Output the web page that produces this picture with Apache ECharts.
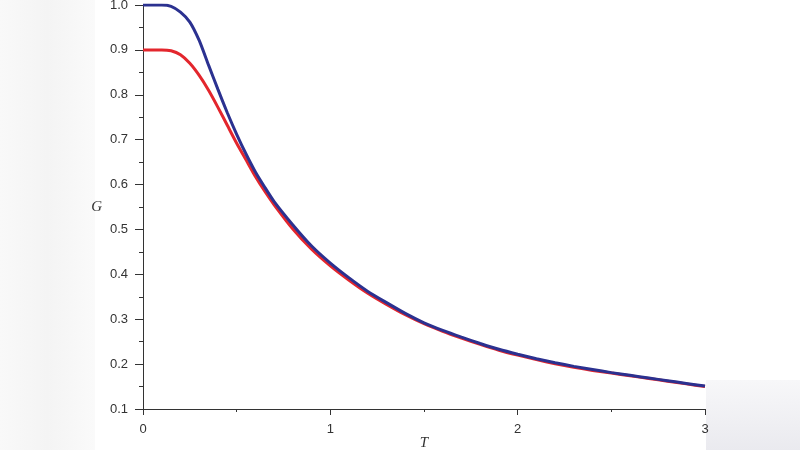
<!DOCTYPE html>
<html>
<head>
<meta charset="utf-8">
<script src="https://cdn.jsdelivr.net/npm/echarts@6/dist/echarts.min.js"></script>
<style>
  html, body { margin: 0; padding: 0; background: #fff; }
  #chart { width: 800px; height: 450px; }
</style>
</head>
<body>
<div id="chart"></div>
<script>
// T values (x axis)
var tValues = [0, 0.05, 0.1, 0.15, 0.2, 0.25, 0.3, 0.35, 0.4, 0.45, 0.5, 0.55, 0.6, 0.65, 0.7,
    0.8, 0.9, 1.0, 1.1, 1.2, 1.3, 1.4, 1.5, 1.6, 1.7, 1.8, 1.9, 2.0,
    2.1, 2.2, 2.3, 2.4, 2.5, 2.6, 2.7, 2.8, 2.9, 3.0];
// upper curve (blue)
var gBlue = [1.0, 1.0, 1.0, 0.997, 0.984, 0.962, 0.921, 0.866, 0.812, 0.760, 0.712, 0.668, 0.628, 0.594, 0.562,
    0.510, 0.463, 0.425, 0.392, 0.362, 0.337, 0.313, 0.292, 0.275, 0.260, 0.246, 0.233, 0.222,
    0.212, 0.203, 0.195, 0.188, 0.181, 0.175, 0.169, 0.163, 0.157, 0.151];
// lower curve (red)
var gRed = [0.9, 0.9, 0.9, 0.898, 0.889, 0.870, 0.843, 0.810, 0.772, 0.732, 0.692, 0.655, 0.618, 0.585, 0.555,
    0.501, 0.456, 0.419, 0.387, 0.358, 0.333, 0.310, 0.290, 0.273, 0.258, 0.244, 0.231, 0.220,
    0.210, 0.201, 0.193, 0.186, 0.180, 0.174, 0.168, 0.162, 0.156, 0.150];

var pairs = function (ys) {
    return tValues.map(function (t, i) { return [t, ys[i]]; });
};

var myChart = echarts.init(document.getElementById('chart'));
var axisColor = '#333';
var option = {
    backgroundColor: '#fff',
    animation: false,
    graphic: [
        {
            type: 'rect', z: -10,
            shape: { x: 0, y: 0, width: 95, height: 450 },
            style: {
                fill: new echarts.graphic.LinearGradient(0, 0, 1, 0, [
                    { offset: 0, color: '#f9f9f9' },
                    { offset: 0.5, color: '#f4f4f4' },
                    { offset: 1, color: '#fafafa' }
                ])
            }
        },
        {
            type: 'rect', z: -10,
            shape: { x: 706, y: 380, width: 94, height: 70 },
            style: {
                fill: new echarts.graphic.LinearGradient(0, 0, 0, 1, [
                    { offset: 0, color: '#f7f7f9' },
                    { offset: 1, color: '#eaeaef' }
                ])
            }
        }
    ],
    grid: { left: 143, right: 95, top: 5, bottom: 41, outerBoundsMode: 'none', containLabel: false },
    xAxis: {
        type: 'value',
        min: 0,
        max: 3,
        interval: 1,
        name: 'T',
        nameLocation: 'middle',
        nameGap: 27,
        nameMoveOverlap: false,
        nameTextStyle: { fontFamily: 'Liberation Serif', fontStyle: 'italic', fontSize: 15, color: axisColor },
        axisLine: { onZero: false, lineStyle: { color: axisColor, width: 1 } },
        axisTick: { length: 6, lineStyle: { color: axisColor } },
        minorTick: { show: true, splitNumber: 2, length: 3, lineStyle: { color: axisColor } },
        axisLabel: { margin: 14, fontFamily: 'Liberation Sans', fontSize: 13, color: axisColor },
        splitLine: { show: false }
    },
    yAxis: {
        type: 'value',
        min: 0.1,
        max: 1.0,
        interval: 0.1,
        name: 'G',
        nameLocation: 'middle',
        nameRotate: 0,
        nameGap: 41,
        nameMoveOverlap: false,
        nameTextStyle: { fontFamily: 'Liberation Serif', fontStyle: 'italic', fontSize: 15, color: axisColor },
        axisLine: { show: true, onZero: false, lineStyle: { color: axisColor, width: 1 } },
        axisTick: { show: true, length: 8, lineStyle: { color: axisColor } },
        minorTick: { show: true, splitNumber: 2, length: 4, lineStyle: { color: axisColor } },
        axisLabel: {
            margin: 15, fontFamily: 'Liberation Sans', fontSize: 13, color: axisColor,
            formatter: function (v) { return v.toFixed(1); }
        },
        splitLine: { show: false }
    },
    series: [
        {
            name: 'red',
            type: 'line',
            data: pairs(gRed),
            showSymbol: false,
            smooth: 0.2,
            lineStyle: { color: '#e3262d', width: 3 },
            z: 2
        },
        {
            name: 'blue',
            type: 'line',
            data: pairs(gBlue),
            showSymbol: false,
            smooth: 0.2,
            lineStyle: { color: '#2b3190', width: 3 },
            z: 3
        }
    ]
};
myChart.setOption(option);
</script>
</body>
</html>
